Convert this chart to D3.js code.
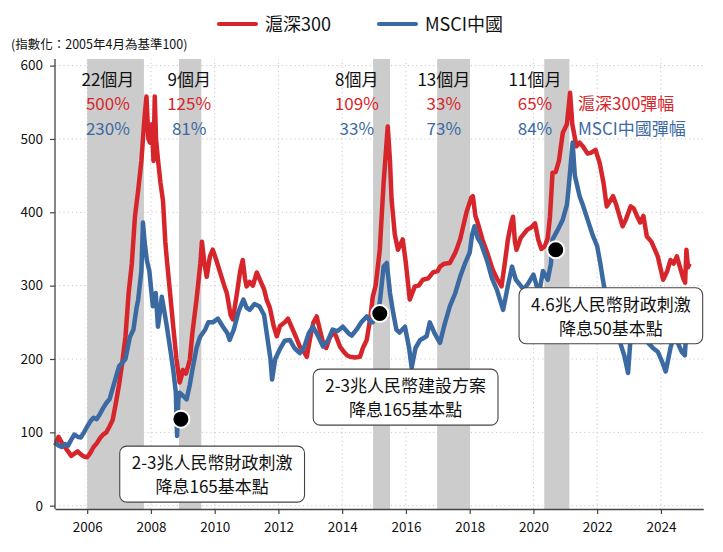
<!DOCTYPE html>
<html><head><meta charset="utf-8">
<script src="https://cdn.jsdelivr.net/npm/d3@7"></script>
<style>body{margin:0;background:#fff;} svg{display:block;font-family:"Noto Sans CJK TC","Noto Sans",sans-serif;}</style>
</head><body><svg id="chart" width="723" height="552"></svg>
<script>
const seriesNames = ["滬深300", "MSCI中國"];
const subtitle = "(指數化：2005年4月為基準100)";

const csiYears = [2005.00,2005.05,2005.1,2005.2,2005.3,2005.4,2005.5,2005.6,2005.7,2005.8,2005.9,2006.0,2006.1,2006.2,2006.3,2006.4,2006.5,2006.6,2006.7,2006.8,2006.9,2007.0,2007.1,2007.2,2007.3,2007.4,2007.5,2007.6,2007.7,2007.8,2007.86,2007.92,2007.97,2008.03,2008.08,2008.12,2008.16,2008.22,2008.3,2008.38,2008.45,2008.5,2008.6,2008.7,2008.8,2008.9,2008.95,2009.0,2009.1,2009.22,2009.3,2009.43,2009.55,2009.6,2009.68,2009.75,2009.85,2009.94,2010.05,2010.17,2010.3,2010.38,2010.5,2010.57,2010.7,2010.8,2010.88,2010.95,2011.0,2011.1,2011.2,2011.32,2011.42,2011.55,2011.63,2011.73,2011.85,2011.95,2012.05,2012.2,2012.3,2012.45,2012.55,2012.67,2012.8,2012.89,2013.0,2013.1,2013.2,2013.3,2013.4,2013.5,2013.6,2013.7,2013.8,2013.93,2014.05,2014.15,2014.25,2014.4,2014.56,2014.65,2014.77,2014.88,2014.96,2015.05,2015.18,2015.3,2015.43,2015.5,2015.55,2015.65,2015.75,2015.9,2016.0,2016.12,2016.28,2016.4,2016.53,2016.7,2016.85,2017.0,2017.07,2017.2,2017.38,2017.55,2017.7,2017.9,2018.05,2018.1,2018.18,2018.25,2018.4,2018.55,2018.72,2018.85,2019.0,2019.1,2019.2,2019.3,2019.36,2019.42,2019.47,2019.6,2019.8,2019.95,2020.05,2020.15,2020.25,2020.36,2020.45,2020.52,2020.6,2020.7,2020.8,2020.92,2021.05,2021.15,2021.22,2021.35,2021.45,2021.55,2021.7,2021.8,2021.95,2022.08,2022.2,2022.3,2022.4,2022.5,2022.6,2022.7,2022.8,2022.9,2023.05,2023.15,2023.25,2023.35,2023.45,2023.56,2023.7,2023.8,2023.9,2024.07,2024.2,2024.3,2024.4,2024.5,2024.6,2024.7,2024.76,2024.8,2024.85,2024.9];
const csiValues = [82,88,94,86,80,74,68,71,74,70,67,66,72,80,85,92,97,100,108,117,140,165,195,230,290,330,395,430,470,530,558,500,495,520,470,558,500,472,440,415,360,335,290,244,200,168,175,185,180,199,235,281,330,360,330,312,340,349,335,318,300,290,260,254,290,320,335,310,299,305,300,318,308,295,281,270,245,231,245,250,255,240,230,217,210,203,230,250,258,240,222,215,228,236,232,217,210,205,203,202,203,215,226,255,285,300,349,440,517,470,417,370,349,363,330,281,299,300,308,310,318,320,326,330,331,345,363,400,420,422,395,386,363,345,322,310,299,330,363,385,394,360,349,365,376,380,385,363,350,354,365,394,454,455,470,508,520,563,520,490,495,490,480,481,485,467,440,408,415,422,410,395,381,390,408,405,395,386,395,367,360,350,340,308,320,335,330,340,325,310,304,349,325,330];

const msciYears = [2005.0,2005.1,2005.2,2005.3,2005.4,2005.5,2005.6,2005.7,2005.8,2005.9,2006.0,2006.1,2006.2,2006.3,2006.4,2006.5,2006.6,2006.7,2006.8,2006.9,2007.0,2007.1,2007.2,2007.34,2007.45,2007.55,2007.6,2007.7,2007.75,2007.8,2007.87,2007.95,2008.06,2008.15,2008.22,2008.3,2008.34,2008.42,2008.5,2008.6,2008.7,2008.78,2008.82,2008.86,2008.9,2009.0,2009.12,2009.22,2009.32,2009.43,2009.54,2009.7,2009.8,2009.94,2010.1,2010.26,2010.4,2010.47,2010.6,2010.75,2010.9,2011.0,2011.1,2011.25,2011.4,2011.55,2011.63,2011.75,2011.8,2011.9,2012.04,2012.2,2012.36,2012.5,2012.67,2012.8,2012.95,2013.08,2013.2,2013.4,2013.55,2013.7,2013.85,2014.02,2014.2,2014.3,2014.45,2014.6,2014.77,2014.9,2014.96,2015.1,2015.18,2015.3,2015.4,2015.5,2015.6,2015.7,2015.8,2015.97,2016.1,2016.18,2016.3,2016.45,2016.65,2016.75,2016.9,2017.07,2017.2,2017.38,2017.55,2017.7,2017.85,2018.0,2018.08,2018.15,2018.25,2018.35,2018.54,2018.7,2018.85,2019.05,2019.2,2019.33,2019.45,2019.6,2019.7,2019.85,2020.0,2020.1,2020.2,2020.3,2020.45,2020.55,2020.6,2020.75,2020.92,2021.05,2021.1,2021.23,2021.3,2021.45,2021.55,2021.7,2021.85,2022.0,2022.1,2022.18,2022.3,2022.4,2022.5,2022.6,2022.7,2022.85,2022.97,2023.05,2023.15,2023.3,2023.45,2023.6,2023.75,2023.9,2024.05,2024.15,2024.3,2024.4,2024.5,2024.65,2024.75,2024.8,2024.85,2024.9];
const msciValues = [86,82,80,84,82,90,97,94,93,100,108,115,120,118,125,133,140,145,160,175,190,195,200,230,240,270,281,320,386,360,335,320,272,290,244,270,285,265,244,215,185,155,95,145,154,150,145,165,190,215,230,240,250,250,255,244,235,226,240,265,281,270,267,275,272,260,236,200,172,200,213,225,226,215,208,215,235,244,235,217,225,240,238,244,235,232,240,250,258,250,250,262,277,326,331,290,263,240,236,244,215,188,215,226,231,250,235,222,245,272,290,312,330,345,370,381,365,358,335,310,295,267,300,326,308,300,295,304,315,300,295,320,308,330,363,375,390,410,431,495,450,422,410,390,370,354,330,308,280,250,225,235,225,205,181,230,245,235,230,222,215,210,195,183,215,230,225,210,205,240,226,225];

const bandStarts = [2006.0, 2008.88, 2014.97, 2016.98, 2020.34];
const bandEnds = [2007.78, 2009.58, 2015.5, 2018.01, 2021.13];
const bandMonths = ["22個月", "9個月", "8個月", "13個月", "11個月"];
const bandCsiGain = ["500%", "125%", "109%", "33%", "65%"];
const bandMsciGain = ["230%", "81%", "33%", "73%", "84%"];
const bandLabelYears = [2006.65, 2009.2, 2014.46, 2017.19, 2020.05];
const gainTitles = ["滬深300彈幅", "MSCI中國彈幅"];

const eventYears = [2008.94, 2015.18, 2020.7];
const eventValues = [118, 262, 349];
const eventLine1 = ["2-3兆人民幣財政刺激", "2-3兆人民幣建設方案", "4.6兆人民幣財政刺激"];
const eventLine2 = ["降息165基本點", "降息165基本點", "降息50基本點"];
const eventBoxYears = [2009.92, 2015.99, 2022.43];
const eventBoxValues = [43, 148, 259];

const yTicks = [0, 100, 200, 300, 400, 500, 600];
const xTicks = [2006, 2008, 2010, 2012, 2014, 2016, 2018, 2020, 2022, 2024];

const RED = "#d7262b", BLUE = "#3b6aa3", GREY = "#cccccc";
const svg = d3.select("#chart");
const x = d3.scaleLinear().domain([2004.99, 2025.33]).range([55, 703.3]);
const y = d3.scaleLinear().domain([-4.5, 609]).range([509, 59]);

// grid
const grid = svg.append("g");
grid.selectAll("line.h").data(yTicks).join("line")
  .attr("x1", x.range()[0]).attr("x2", x.range()[1])
  .attr("y1", d => y(d)).attr("y2", d => y(d))
  .attr("stroke", "#c8c8c8").attr("stroke-width", 1).attr("stroke-dasharray", "1.2,3");
grid.selectAll("line.v").data(xTicks).join("line")
  .attr("y1", y.range()[0]).attr("y2", y.range()[1])
  .attr("x1", d => x(d)).attr("x2", d => x(d))
  .attr("stroke", "#c8c8c8").attr("stroke-width", 1).attr("stroke-dasharray", "1.2,3");

// bands
svg.append("g").selectAll("rect").data(bandStarts).join("rect")
  .attr("x", (d) => x(d)).attr("width", (d, i) => x(bandEnds[i]) - x(d))
  .attr("y", y.range()[1]).attr("height", y.range()[0] - y.range()[1])
  .attr("fill", GREY);

// lines
const line = d3.line().x(d => x(d[0])).y(d => y(d[1]));
const csi = csiYears.map((t, i) => [t, csiValues[i]]);
const msci = msciYears.map((t, i) => [t, msciValues[i]]);
svg.append("path").datum(csi).attr("d", line).attr("fill", "none")
  .attr("stroke", RED).attr("stroke-width", 4.5).attr("stroke-linejoin", "round");
svg.append("path").datum(msci).attr("d", line).attr("fill", "none")
  .attr("stroke", BLUE).attr("stroke-width", 4.5).attr("stroke-linejoin", "round");

// axes
const ya = svg.append("g").attr("transform", `translate(${x.range()[0]},0)`)
  .call(d3.axisLeft(y).tickValues(yTicks).tickSize(5).tickPadding(7).tickSizeOuter(0));
const xa = svg.append("g").attr("transform", `translate(0,${y.range()[0]})`)
  .call(d3.axisBottom(x).tickValues(xTicks).tickFormat(d3.format("d")).tickSize(5).tickPadding(8).tickSizeOuter(0));
[ya, xa].forEach(a => {
  a.select(".domain").attr("stroke", "#444").attr("stroke-width", 1.3);
  a.selectAll(".tick line").attr("stroke", "#444").attr("stroke-width", 1.2);
  a.selectAll("text").attr("font-size", 13.5).attr("fill", "#111")
    .attr("font-family", '"Noto Sans CJK TC", sans-serif');
});
ya.select(".domain").attr("d", `M0,${y.range()[0]}V${y.range()[1]}`);

// band labels
const rowVals = [572, 539, 506];
const bl = svg.append("g").attr("text-anchor", "middle").attr("font-size", 17);
bl.selectAll("text.m").data(bandMonths).join("text")
  .attr("x", (d, i) => x(bandLabelYears[i])).attr("y", y(rowVals[0])).attr("fill", "#111").text(d => d);
bl.selectAll("text.c").data(bandCsiGain).join("text")
  .attr("x", (d, i) => x(bandLabelYears[i])).attr("y", y(rowVals[1])).attr("fill", RED).text(d => d);
bl.selectAll("text.b").data(bandMsciGain).join("text")
  .attr("x", (d, i) => x(bandLabelYears[i])).attr("y", y(rowVals[2])).attr("fill", BLUE).text(d => d);
svg.append("g").attr("font-size", 17).selectAll("text").data(gainTitles).join("text")
  .attr("x", x(2021.4)).attr("y", (d, i) => y(rowVals[i + 1]))
  .attr("fill", (d, i) => i === 0 ? RED : BLUE).text(d => d);

// event dots
svg.append("g").selectAll("circle").data(eventYears).join("circle")
  .attr("cx", d => x(d)).attr("cy", (d, i) => y(eventValues[i])).attr("r", 8.5)
  .attr("fill", "#000").attr("stroke", "#fff").attr("stroke-width", 2);

// event boxes
eventBoxYears.forEach((t, i) => {
  const g = svg.append("g").attr("transform", `translate(${x(t)},${y(eventBoxValues[i])})`);
  const rect = g.append("rect");
  const tx = g.append("g").attr("text-anchor", "middle").attr("font-size", 17).attr("fill", "#111");
  tx.append("text").attr("y", -5).text(eventLine1[i]);
  tx.append("text").attr("y", 19).text(eventLine2[i]);
  const w = tx.node().getBBox().width + 24, h = 56;
  rect.attr("x", -w / 2).attr("y", -h / 2).attr("width", w).attr("height", h)
    .attr("rx", 7).attr("fill", "#fff").attr("stroke", "#444").attr("stroke-width", 1.1);
});

// legend
const lg = svg.append("g");
const legX = [219, 379];
seriesNames.forEach((n, i) => {
  lg.append("line").attr("x1", legX[i]).attr("x2", legX[i] + 37).attr("y1", 24).attr("y2", 24)
    .attr("stroke", i === 0 ? RED : BLUE).attr("stroke-width", 4).attr("stroke-linecap", "round");
  lg.append("text").attr("x", legX[i] + 46).attr("y", 31).attr("font-size", 18).attr("fill", "#111").text(n);
});
svg.append("text").attr("x", 11).attr("y", 49).attr("font-size", 12.5).attr("fill", "#111").text(subtitle);
</script></body></html>
